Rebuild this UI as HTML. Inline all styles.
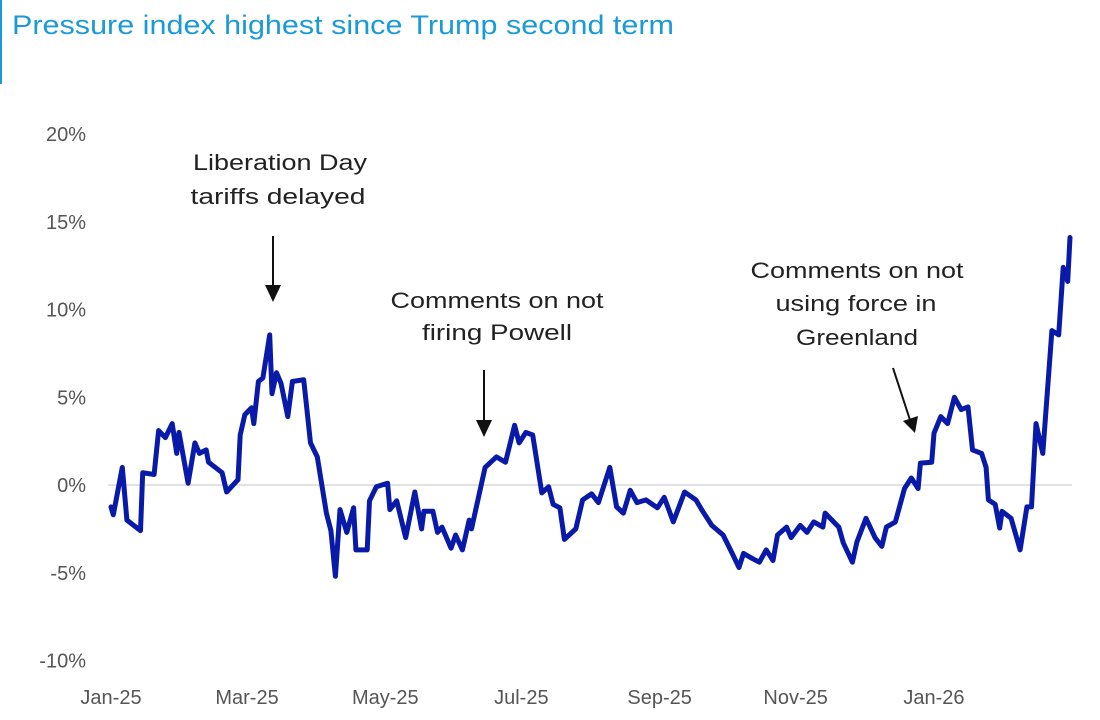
<!DOCTYPE html>
<html><head><meta charset="utf-8"><style>
body{margin:0;background:#fff;width:1100px;height:715px;overflow:hidden;font-family:"Liberation Sans",sans-serif}
</style></head><body>
<svg id="chart" width="1100" height="715" xmlns="http://www.w3.org/2000/svg" font-family="Liberation Sans, sans-serif">
<rect x="0" y="0" width="2" height="84" fill="#1a9ad6"/>
<text x="12" y="34" font-size="27" fill="#1a9ad6" textLength="662" lengthAdjust="spacingAndGlyphs">Pressure index highest since Trump second term</text>
<g id="yaxis"></g>
<g id="xaxis"></g>
<line id="zero" x1="108" x2="1072" stroke="#e2e2e2" stroke-width="2"/>
<path id="series" fill="none" stroke="#0a1aa8" stroke-width="5" stroke-linejoin="round" stroke-linecap="round"/>
<g font-size="22" fill="#222" text-anchor="middle">
<text x="280" y="170" textLength="174" lengthAdjust="spacingAndGlyphs">Liberation Day</text><text x="278" y="204" textLength="175" lengthAdjust="spacingAndGlyphs">tariffs delayed</text>
<line x1="273" y1="236" x2="273" y2="290" stroke="#111" stroke-width="2"/><polygon points="265,285 281,285 273,302" fill="#111"/>
</g>
<g font-size="22" fill="#222" text-anchor="middle">
<text x="497" y="308" textLength="213" lengthAdjust="spacingAndGlyphs">Comments on not</text><text x="497" y="340" textLength="150" lengthAdjust="spacingAndGlyphs">firing Powell</text>
<line x1="484" y1="370" x2="484" y2="425" stroke="#111" stroke-width="2"/><polygon points="476,420 492,420 484,437" fill="#111"/>
</g>
<g font-size="22" fill="#222" text-anchor="middle">
<text x="857" y="278" textLength="213" lengthAdjust="spacingAndGlyphs">Comments on not</text><text x="856" y="311" textLength="161" lengthAdjust="spacingAndGlyphs">using force in</text><text x="857" y="345" textLength="122" lengthAdjust="spacingAndGlyphs">Greenland</text>
<line x1="893" y1="368" x2="910" y2="420" stroke="#111" stroke-width="2"/><polygon points="903,421 918,416 915,433" fill="#111"/>
</g>
</svg>
<script>
const yTicks=[20,15,10,5,0,-5,-10];
const xTickLabels=["Jan-25","Mar-25","May-25","Jul-25","Sep-25","Nov-25","Jan-26"];
const xTickDays=[0,60,121,181,242,302,363];
const days=[0,1,5,7,13,14,19,21,24,27,29,30,34,37,39,42,43,49,51,56,57,59,62,63,65,67,70,71,73,75,78,80,85,88,91,95,97,99,101,104,107,108,113,114,117,122,123,126,130,134,137,138,142,144,146,150,152,155,158,159,165,170,174,178,180,183,186,190,193,195,198,200,205,208,212,215,220,223,226,229,232,236,241,244,248,253,258,261,265,270,274,277,279,283,286,289,292,294,298,300,304,307,310,314,315,321,323,327,329,333,337,340,342,346,350,353,356,357,362,363,366,369,372,375,378,380,384,386,387,390,392,393,397,401,404,406,408,411,415,418,420,422,423];
const values=[-1.25,-1.7,1.0,-2.0,-2.6,0.7,0.6,3.1,2.7,3.5,1.8,3.0,0.1,2.4,1.8,2.0,1.3,0.7,-0.4,0.3,2.85,4.0,4.4,3.5,5.9,6.1,8.55,5.2,6.4,5.8,3.9,5.9,6.0,2.4,1.6,-1.6,-2.6,-5.2,-1.4,-2.7,-1.3,-3.7,-3.7,-0.9,-0.1,0.1,-1.4,-0.9,-3.0,-0.4,-2.5,-1.5,-1.5,-2.7,-2.4,-3.6,-2.85,-3.7,-2.0,-2.5,1.0,1.6,1.3,3.4,2.4,3.0,2.85,-0.45,-0.1,-1.1,-1.3,-3.1,-2.5,-0.85,-0.5,-1.0,1.0,-1.25,-1.6,-0.3,-1.0,-0.85,-1.3,-0.7,-2.1,-0.4,-0.85,-1.5,-2.3,-2.85,-3.9,-4.7,-3.9,-4.2,-4.4,-3.7,-4.3,-2.85,-2.4,-3.0,-2.3,-2.7,-2.1,-2.4,-1.6,-2.4,-3.3,-4.4,-3.25,-1.9,-3.0,-3.5,-2.4,-2.1,-0.2,0.4,-0.2,1.25,1.3,2.95,3.9,3.5,5.0,4.3,4.45,2.0,1.8,1.0,-0.85,-1.1,-2.45,-1.5,-1.9,-3.7,-1.25,-1.25,3.5,1.8,8.8,8.55,12.4,11.6,14.1];
const X=d=>111+d*(1070-111)/423;
const Y=v=>485-v*17.55;
const NS="http://www.w3.org/2000/svg";
const ya=document.getElementById('yaxis');
yTicks.forEach(t=>{const e=document.createElementNS(NS,'text');


e.setAttribute('x',86);e.setAttribute('y',Y(t)+7);e.setAttribute('text-anchor','end');e.setAttribute('font-size','20');e.setAttribute('fill','#555');e.textContent=t+'%';ya.appendChild(e);});
const xa=document.getElementById('xaxis');
xTickLabels.forEach((l,i)=>{const e=document.createElementNS(NS,'text');


e.setAttribute('x',X(xTickDays[i]));e.setAttribute('y',704);e.setAttribute('text-anchor','middle');e.setAttribute('font-size','20');e.setAttribute('fill','#555');e.textContent=l;xa.appendChild(e);});
const z=document.getElementById('zero');z.setAttribute('y1',Y(0));z.setAttribute('y2',Y(0));
document.getElementById('series').setAttribute('d',days.map((d,i)=>(i?'L':'M')+X(d).toFixed(1)+','+Y(values[i]).toFixed(1)).join(''));
</script>
</body></html>
